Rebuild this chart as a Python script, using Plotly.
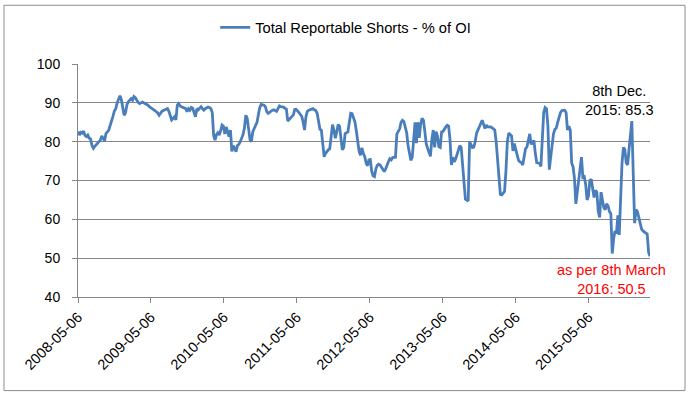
import pandas as pd
import plotly.graph_objects as go

# Weekly reporting dates (Tuesdays), 2008-05-06 .. 2016-03-08
start_date = "2008-05-06"
end_date = "2016-03-08"
dates = pd.date_range(start_date, end_date, freq="7D")

series_name = "Total Reportable Shorts - % of OI"
shorts_pct = [
    82.6, 81.7, 82.4, 82.2, 82.7, 81.6, 81.3, 81.7, 80.9, 80.7,
    79.0, 78.3, 78.8, 79.1, 79.6, 80.0, 80.4, 81.5, 80.8, 80.2,
    82.1, 82.6, 83.0, 84.2, 85.2, 86.5, 87.9, 88.5, 90.0, 91.2,
    91.8, 90.8, 89.0, 86.8, 87.5, 89.5, 90.3, 90.8, 91.1, 90.7,
    91.6, 91.3, 90.5, 90.1, 89.8, 90.0, 90.2, 90.0, 89.8, 89.7,
    89.4, 89.0, 88.8, 88.5, 88.3, 88.0, 87.7, 87.4, 86.8, 87.4,
    87.8, 88.0, 88.1, 88.3, 88.5, 87.8, 86.8, 85.6, 86.0, 86.4,
    85.6, 89.4, 89.8, 89.2, 89.0, 88.8, 88.5, 88.5, 87.7, 88.5,
    88.1, 88.8, 88.6, 87.3, 86.4, 88.5, 88.2, 88.6, 89.0, 88.5,
    88.1, 88.5, 88.7, 88.9, 88.8, 88.5, 87.5, 81.5, 80.4, 81.8,
    82.3, 81.7, 82.8, 84.3, 84.0, 82.0, 83.8, 82.5, 81.3, 83.0,
    77.5, 79.0, 78.0, 77.4, 79.0, 79.3, 80.0, 81.0, 81.8, 83.5,
    86.8, 86.0, 82.5, 80.5, 80.0, 82.6, 83.4, 84.3, 85.0, 87.0,
    88.8, 89.6, 89.5, 89.4, 89.0, 87.7, 87.3, 87.6, 88.0, 88.1,
    88.2, 88.0, 87.8, 88.5, 89.2, 89.0, 89.0, 88.9, 88.6, 88.4,
    85.3, 85.8, 86.2, 86.5, 86.9, 88.3, 88.3, 88.0, 87.5, 87.0,
    86.5, 85.0, 83.0, 86.5, 87.8, 88.1, 88.2, 88.4, 88.5, 88.2,
    88.0, 87.3, 85.0, 83.2, 83.0, 79.0, 76.1, 77.0, 77.6, 77.9,
    78.2, 82.0, 84.4, 83.0, 80.9, 82.5, 84.4, 84.0, 81.0, 77.9,
    78.5, 82.1, 82.3, 82.5, 85.0, 87.3, 87.2, 86.0, 85.1, 82.8,
    80.2, 77.5, 76.5, 78.4, 77.0, 76.2, 74.5, 73.8, 75.3, 75.4,
    72.4, 71.2, 71.0, 73.0, 73.9, 74.2, 74.0, 73.5, 72.8, 72.3,
    73.0, 74.3, 74.9, 75.6, 75.3, 75.9, 76.0, 76.0, 82.0, 82.8,
    83.3, 85.0, 85.5, 85.2, 84.0, 82.3, 79.0, 76.5, 75.2, 76.0,
    82.0, 85.0, 79.6, 85.0, 81.0, 84.5, 86.0, 85.5, 82.6, 79.5,
    78.3, 77.0, 76.2, 80.5, 83.0, 78.5, 82.6, 81.5, 78.7, 78.5,
    82.5, 82.6, 83.3, 83.8, 84.2, 84.0, 80.5, 74.0, 76.0, 74.8,
    75.5, 76.5, 78.0, 79.0, 78.5, 73.3, 68.5, 65.2, 65.0, 64.7,
    80.0, 79.0, 78.5, 78.6, 80.0, 82.2, 83.0, 84.0, 84.5, 85.5,
    84.5, 83.4, 84.3, 83.8, 83.8, 83.8, 83.6, 83.4, 83.0, 80.0,
    74.5, 69.5, 66.4, 66.3, 66.8, 67.2, 72.5, 80.0, 82.2, 81.8,
    81.5, 77.6, 79.5, 78.0, 76.2, 75.2, 74.8, 74.6, 74.0, 76.5,
    78.2, 78.6, 80.0, 82.0, 79.3, 79.8, 80.3, 77.0, 74.6, 74.5,
    74.4, 73.6, 80.0, 87.5, 88.8, 88.5, 84.0, 72.8, 76.0, 79.8,
    82.0, 83.2, 83.5, 85.0, 86.5, 87.5, 88.0, 88.1, 88.1, 87.5,
    83.0, 84.0, 83.0, 74.5, 73.5, 70.5, 64.0, 67.0, 70.5, 73.5,
    76.0, 70.8, 71.0, 69.0, 65.0, 66.0, 70.0, 70.3, 67.5, 65.6,
    67.5, 67.0, 62.0, 60.5, 67.0, 64.8, 63.0, 62.5, 64.0, 63.5,
    62.0, 61.5, 51.2, 55.0, 57.0, 56.3, 61.0, 56.0, 68.0, 74.5,
    78.5, 78.0, 74.5, 74.0, 78.0, 81.5, 85.3, 72.0, 59.0, 62.5,
    62.0, 60.5, 58.5, 57.5, 57.0, 56.8, 56.6, 56.2, 51.5, 50.5,
]

x_tick_dates = ["2008-05-06", "2009-05-06", "2010-05-06", "2011-05-06",
                "2012-05-06", "2013-05-06", "2014-05-06", "2015-05-06"]
y_ticks = [40, 50, 60, 70, 80, 90, 100]

dec_date, dec_value = "2015-12-08", 85.3
mar_date, mar_value = "2016-03-08", 50.5

LINE = "#4A7EBB"
GRID = "#868686"
FONT = "Liberation Sans, Arial, sans-serif"

fig = go.Figure()
fig.add_trace(go.Scatter(
    x=dates, y=shorts_pct, mode="lines", name=series_name,
    line=dict(color=LINE, width=2.8), showlegend=True,
))

fig.update_layout(
    width=689, height=395,
    margin=dict(l=78, r=39, t=63, b=98),
    paper_bgcolor="white", plot_bgcolor="white",
    font=dict(family=FONT, size=14, color="black"),
    showlegend=True,
    legend=dict(orientation="h", x=0.468, xanchor="center", y=1.15, yanchor="middle",
                font=dict(size=14.7), itemwidth=30, bgcolor="rgba(0,0,0,0)"),
    xaxis=dict(
        type="date", range=[start_date, end_date],
        tickvals=x_tick_dates, ticktext=x_tick_dates, tickangle=-45,
        showgrid=False, showline=True, linecolor=GRID, linewidth=1,
        ticks="outside", ticklen=5, tickcolor=GRID,
        tickfont=dict(size=14.5), zeroline=False, automargin=False,
    ),
    yaxis=dict(
        range=[40, 100], tickvals=y_ticks,
        showgrid=True, gridcolor=GRID, gridwidth=1,
        showline=True, linecolor=GRID, linewidth=1,
        ticks="outside", ticklen=5, tickcolor=GRID,
        tickfont=dict(size=14), zeroline=False, ticklabelstandoff=9,
        automargin=False,
    ),
    annotations=[
        dict(x=dec_date, y=dec_value, xref="x", yref="y",
             text="8th Dec.<br>2015: 85.3", showarrow=False,
             xshift=-12, yshift=21, font=dict(size=14.5, color="black")),
        dict(x=mar_date, y=mar_value, xref="x", yref="y",
             text="as per 8th March<br>2016: 50.5", showarrow=False,
             xshift=-39, yshift=-23, font=dict(size=14.5, color="#FF0000")),
    ],
    shapes=[
        dict(type="rect", xref="paper", yref="paper",
             x0=-0.1294, x1=1.0612, y0=-0.4017, y1=1.2521,
             line=dict(color="#8C8C8C", width=1), fillcolor="rgba(0,0,0,0)", layer="below"),
    ],
)

fig.write_html("out.html", config={"displayModeBar": False},
               post_script="document.body.style.margin='0';")
